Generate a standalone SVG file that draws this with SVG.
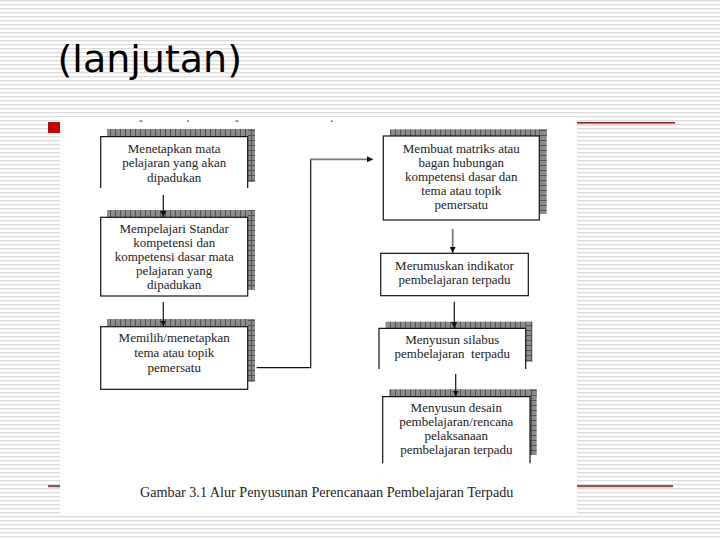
<svg xmlns="http://www.w3.org/2000/svg" width="720" height="540" viewBox="0 0 720 540">
<defs>
<pattern id="bg" width="8" height="4" patternUnits="userSpaceOnUse"><rect width="8" height="4" fill="#ffffff"/><rect y="0" width="8" height="1.3" fill="#dcdcdc"/></pattern>
<pattern id="hatchTop" width="5" height="8" patternUnits="userSpaceOnUse"><rect width="5" height="8" fill="#8c8c8c"/><rect x="0" width="0.8" height="8" fill="#444"/></pattern>
<pattern id="hatchSide" width="8" height="5" patternUnits="userSpaceOnUse"><rect width="8" height="5" fill="#8c8c8c"/><rect y="0" width="8" height="0.8" fill="#444"/><rect x="3" width="0.8" height="5" fill="#444"/></pattern>
<marker id="arr" viewBox="0 0 10 10" refX="10" refY="5" markerWidth="6" markerHeight="6" markerUnits="userSpaceOnUse" orient="auto"><path d="M0,0 L10,5 L0,10 z" fill="#111"/></marker>
</defs>
<style>
.box{fill:#fff;stroke:#111;stroke-width:1.2}
.open{fill:none;stroke:#111;stroke-width:1.2}
.st{fill:url(#hatchTop)}
.sr{fill:url(#hatchSide)}
.t{font-family:"Liberation Serif","Times New Roman",serif;font-size:13px;fill:#222;text-anchor:middle}
.cn{fill:none;stroke:#111;stroke-width:1.2}
.cg{fill:none;stroke:#777;stroke-width:1.8}
</style>
<rect width="720" height="540" fill="url(#bg)"/>
<text x="57.5" y="72" font-family="'DejaVu Sans',Verdana,sans-serif" font-size="38" fill="#000">(lanjutan)</text>
<line x1="48" y1="124.5" x2="675" y2="124.5" stroke="#f2cccc" stroke-width="2"/>
<line x1="48" y1="122.8" x2="675" y2="122.8" stroke="#7a2222" stroke-width="1.4"/>
<line x1="48" y1="487.5" x2="673" y2="487.5" stroke="#f2cccc" stroke-width="2"/>
<line x1="48" y1="486" x2="673" y2="486" stroke="#6b1f1f" stroke-width="1.4"/>
<rect x="48" y="123" width="12" height="10" fill="#cc0000"/>
<rect x="60" y="117" width="517" height="398" fill="#fff"/>
<g fill="#555">
<rect x="139.5" y="120.5" width="3" height="1.2"/>
<rect x="187" y="120.5" width="2" height="1.2"/>
<rect x="235.5" y="120.5" width="3" height="1.2"/>
<rect x="331" y="120.5" width="1.5" height="1.5"/>
</g>
<g id="n1">
<rect class="st" x="107" y="129" width="148" height="8"/>
<rect class="sr" x="248" y="129" width="7" height="53"/>
<rect x="100.7" y="136.7" width="147" height="51.3" fill="#fff"/>
<path class="open" d="M100.7,188 V136.7 H247.7 V188"/>
<text class="t" x="174.2" y="153">Menetapkan mata</text>
<text class="t" x="174.2" y="167.3">pelajaran yang akan</text>
<text class="t" x="174.2" y="181.6">dipadukan</text>
</g>
<g id="n2">
<rect class="st" x="107" y="210" width="148" height="7.3"/>
<rect class="sr" x="248" y="210" width="7" height="80"/>
<rect class="box" x="100.7" y="217.3" width="147" height="78.7"/>
<text class="t" x="174.2" y="232.7">Mempelajari Standar</text>
<text class="t" x="174.2" y="246.8">kompetensi dan</text>
<text class="t" x="174.2" y="260.9">kompetensi dasar mata</text>
<text class="t" x="174.2" y="275">pelajaran yang</text>
<text class="t" x="174.2" y="289.3">dipadukan</text>
</g>
<g id="n3">
<rect class="st" x="107" y="319" width="148" height="8"/>
<rect class="sr" x="248" y="319" width="7" height="62.7"/>
<rect class="box" x="100.7" y="326.7" width="147" height="62.6"/>
<text class="t" x="174.2" y="341.7">Memilih/menetapkan</text>
<text class="t" x="174.2" y="357">tema atau topik</text>
<text class="t" x="174.2" y="372">pemersatu</text>
</g>
<g id="n4">
<rect class="st" x="390" y="129.3" width="157" height="6.9"/>
<rect class="sr" x="539.3" y="129.3" width="7.4" height="84.7"/>
<rect class="box" x="383.3" y="136" width="156" height="84"/>
<text class="t" x="461.3" y="153">Membuat matriks atau</text>
<text class="t" x="461.3" y="167">bagan hubungan</text>
<text class="t" x="461.3" y="181">kompetensi dasar dan</text>
<text class="t" x="461.3" y="195.2">tema atau topik</text>
<text class="t" x="461.3" y="209.3">pemersatu</text>
</g>
<g id="n5">
<rect class="box" x="380.7" y="253.3" width="147.6" height="42.4"/>
<text class="t" x="454.5" y="269.5">Merumuskan indikator</text>
<text class="t" x="454.5" y="284.3">pembelajaran terpadu</text>
</g>
<g id="n6">
<rect class="st" x="385.7" y="321.7" width="146.6" height="6.8"/>
<rect class="sr" x="525.7" y="321.7" width="6.6" height="40"/>
<rect x="379" y="328.3" width="146.7" height="40.7" fill="#fff"/>
<path class="open" d="M379,369 V328.3 H525.7 V369"/>
<text class="t" x="452.3" y="344.3">Menyusun silabus</text>
<text class="t" x="452.3" y="358.3" xml:space="preserve">pembelajaran  terpadu</text>
</g>
<g id="n7">
<rect class="st" x="389.3" y="389.3" width="147.4" height="7.6"/>
<rect class="sr" x="530" y="389.3" width="6.7" height="65.7"/>
<rect x="382.7" y="396.7" width="147.3" height="66.6" fill="#fff"/>
<path class="open" d="M382.7,463.3 V396.7 H530 V463.3"/>
<text class="t" x="456.3" y="411.7">Menyusun desain</text>
<text class="t" x="456.3" y="426">pembelajaran/rencana</text>
<text class="t" x="456.3" y="440">pelaksanaan</text>
<text class="t" x="456.3" y="454">pembelajaran terpadu</text>
</g>
<g id="connectors">
<line class="cn" x1="163.3" y1="195" x2="163.3" y2="217" marker-end="url(#arr)"/>
<line class="cn" x1="163.3" y1="302" x2="163.3" y2="326.5" marker-end="url(#arr)"/>
<path class="cn" d="M256.7,367.7 H310.7 V159.3"/>
<line class="cg" x1="310.7" y1="159.3" x2="373" y2="159.3" marker-end="url(#arr)"/>
<line class="cg" x1="452.7" y1="229" x2="452.7" y2="253" marker-end="url(#arr)"/>
<line class="cn" x1="454.3" y1="301.7" x2="454.3" y2="328" marker-end="url(#arr)"/>
<line class="cn" x1="455.7" y1="374" x2="455.7" y2="396.5" marker-end="url(#arr)"/>
</g>
<text x="140" y="496.5" font-family="'Liberation Serif','Times New Roman',serif" font-size="14.2" fill="#222">Gambar 3.1 Alur Penyusunan Perencanaan Pembelajaran Terpadu</text>
</svg>
